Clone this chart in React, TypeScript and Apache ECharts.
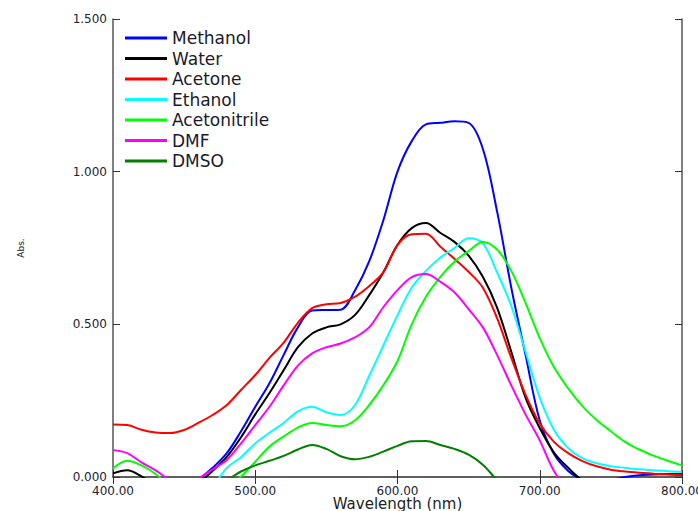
import React, { useEffect, useRef } from "react";
import * as echarts from "echarts";

const wavelengths = [400, 410, 420, 430, 440, 450, 460, 470, 480, 490, 500, 510, 520, 530, 540, 550, 560, 570, 580, 590, 600, 610, 620, 630, 640, 650, 660, 670, 680, 690, 700, 710, 720, 730, 740, 750, 760, 770, 780, 790, 800];

const methanol = [-0.02, -0.04, -0.06, -0.07, -0.07, -0.05, -0.01, 0.03, 0.078, 0.15, 0.23, 0.307, 0.4, 0.49, 0.545, 0.547, 0.548, 0.61, 0.705, 0.84, 1.0, 1.1, 1.155, 1.16, 1.165, 1.16, 1.075, 0.87, 0.62, 0.4, 0.185, 0.075, 0.02, -0.01, -0.02, -0.01, 0.0, 0.006, 0.008, 0.01, 0.01];
const water = [0.012, 0.022, 0.002, -0.03, -0.05, -0.05, -0.02, 0.02, 0.066, 0.13, 0.205, 0.275, 0.35, 0.425, 0.47, 0.49, 0.5, 0.53, 0.595, 0.67, 0.76, 0.815, 0.832, 0.8, 0.77, 0.725, 0.656, 0.555, 0.41, 0.26, 0.16, 0.08, 0.03, -0.01, -0.02, -0.02, -0.02, -0.02, -0.02, -0.02, -0.02];
const acetone = [0.172, 0.17, 0.155, 0.146, 0.144, 0.154, 0.177, 0.203, 0.236, 0.285, 0.334, 0.39, 0.44, 0.505, 0.553, 0.566, 0.57, 0.59, 0.625, 0.67, 0.76, 0.795, 0.797, 0.755, 0.715, 0.672, 0.62, 0.52, 0.39, 0.27, 0.175, 0.115, 0.078, 0.052, 0.035, 0.024, 0.018, 0.014, 0.011, 0.008, 0.006];
const ethanol = [-0.06, -0.07, -0.08, -0.08, -0.08, -0.07, -0.06, -0.03, 0.03, 0.065, 0.11, 0.145, 0.177, 0.215, 0.23, 0.212, 0.203, 0.235, 0.33, 0.43, 0.53, 0.62, 0.675, 0.718, 0.75, 0.782, 0.765, 0.67, 0.56, 0.41, 0.26, 0.155, 0.095, 0.062, 0.045, 0.035, 0.03, 0.025, 0.022, 0.019, 0.017];
const acetonitrile = [0.028, 0.053, 0.038, 0.01, -0.03, -0.06, -0.07, -0.06, -0.03, 0.002, 0.05, 0.1, 0.133, 0.162, 0.177, 0.17, 0.166, 0.185, 0.235, 0.3, 0.38, 0.5, 0.59, 0.655, 0.705, 0.74, 0.77, 0.745, 0.675, 0.57, 0.455, 0.36, 0.29, 0.232, 0.187, 0.15, 0.115, 0.09, 0.07, 0.053, 0.038];
const dmf = [0.088, 0.078, 0.048, 0.022, -0.01, -0.03, -0.005, 0.025, 0.056, 0.11, 0.17, 0.23, 0.3, 0.365, 0.405, 0.425, 0.437, 0.457, 0.49, 0.556, 0.612, 0.655, 0.665, 0.64, 0.605, 0.55, 0.49, 0.4, 0.3, 0.205, 0.12, 0.02, -0.04, -0.06, -0.06, -0.06, -0.06, -0.06, -0.06, -0.06, -0.06];
const dmso = [-0.06, -0.07, -0.08, -0.08, -0.08, -0.07, -0.05, -0.03, -0.01, 0.018, 0.038, 0.053, 0.069, 0.09, 0.105, 0.092, 0.068, 0.058, 0.066, 0.083, 0.102, 0.117, 0.118, 0.105, 0.092, 0.073, 0.04, -0.01, -0.05, -0.07, -0.08, -0.08, -0.08, -0.08, -0.08, -0.08, -0.08, -0.08, -0.08, -0.08, -0.08];

const seriesNames = ["Methanol", "Water", "Acetone", "Ethanol", "Acetonitrile", "DMF", "DMSO"];
const seriesValues = [methanol, water, acetone, ethanol, acetonitrile, dmf, dmso];
const seriesColors = ["#0000ff", "#000000", "#ff0000", "#00ffff", "#00ff00", "#ff00ff", "#007f00"];

const FONT = "DejaVu Sans";
const AXIS_COLOR = "#555555";
const LABEL_COLOR = "#222233";

export default function App() {
  const ref = useRef<HTMLDivElement>(null);
  useEffect(() => {
    if (!ref.current) return;
    const chart = echarts.init(ref.current, undefined, { renderer: "svg" });
    const axisLine = { show: true, lineStyle: { color: AXIS_COLOR, width: 1.5 } };
    const axisTick = { show: true, inside: true, length: 7, lineStyle: { color: "#333", width: 1 } };
    const option = {
      animation: false,
      backgroundColor: "#ffffff",
      textStyle: { fontFamily: FONT },
      grid: { left: 113, right: 16, top: 19, bottom: 34, containLabel: false, outerBoundsMode: "none" },
      legend: {
        orient: "vertical",
        left: 125,
        top: 28,
        padding: 0,
        icon: "rect",
        itemWidth: 42,
        itemHeight: 3,
        itemGap: 0.5,
        textStyle: { fontFamily: FONT, fontSize: 17, color: "#1a1a2a", lineHeight: 20 },
        data: seriesNames,
      },
      xAxis: [
        {
          type: "value",
          min: 400,
          max: 800,
          interval: 100,
          position: "bottom",
          axisLine,
          axisTick,
          splitLine: { show: false },
          axisLabel: {
            formatter: (v: number) => v.toFixed(2),
            color: LABEL_COLOR,
            fontSize: 12,
            lineHeight: 12,
            fontFamily: FONT,
            margin: 8,
          },
          name: "Wavelength (nm)",
          nameLocation: "middle",
          nameGap: 19,
          nameMoveOverlap: false,
          nameTextStyle: { fontFamily: FONT, fontSize: 15, lineHeight: 15, color: "#222" },
        },
        {
          type: "value",
          min: 400,
          max: 800,
          interval: 100,
          position: "top",
          axisLine,
          axisTick,
          splitLine: { show: false },
          axisLabel: { show: false },
        },
      ],
      yAxis: [
        {
          type: "value",
          min: 0,
          max: 1.5,
          interval: 0.5,
          position: "left",
          axisLine,
          axisTick,
          splitLine: { show: false },
          axisLabel: {
            formatter: (v: number) => v.toFixed(3),
            color: LABEL_COLOR,
            fontSize: 12,
            fontFamily: FONT,
            margin: 6,
          },
          name: "Abs.",
          nameLocation: "middle",
          nameRotate: 90,
          nameGap: 88,
          nameMoveOverlap: false,
          nameTextStyle: { fontFamily: FONT, fontSize: 9, color: "#111" },
        },
        {
          type: "value",
          min: 0,
          max: 1.5,
          interval: 0.5,
          position: "right",
          axisLine,
          axisTick,
          splitLine: { show: false },
          axisLabel: { show: false },
        },
      ],
      series: seriesNames.map((name, i) => ({
        name,
        type: "line",
        xAxisIndex: 0,
        yAxisIndex: 0,
        data: wavelengths.map((w, j) => [w, seriesValues[i][j]]),
        smooth: 0.35,
        showSymbol: false,
        symbol: "none",
        clip: true,
        lineStyle: { color: seriesColors[i], width: 2 },
        itemStyle: { color: seriesColors[i] },
      })),
    };
    chart.setOption(option);
    return () => chart.dispose();
  }, []);
  return (
    <div
      ref={ref}
      style={{ position: "fixed", left: 0, top: 0, width: 698, height: 511 }}
    />
  );
}
